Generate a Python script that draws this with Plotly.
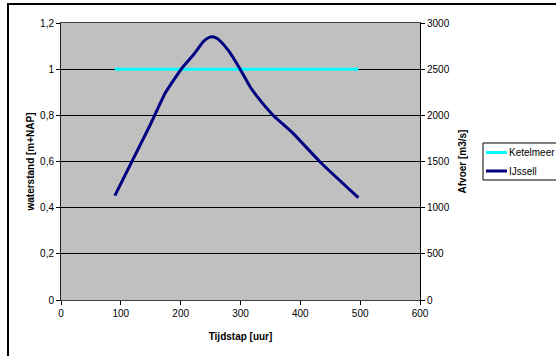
import plotly.graph_objects as go

# Data
ketel_t = [90, 150, 200, 250, 300, 350, 400, 450, 497]
ketel_h = [1, 1, 1, 1, 1, 1, 1, 1, 1]

ijssel_t = [90, 149, 174, 202, 221, 238, 245, 252, 259, 266, 280, 298, 316, 327, 354, 388, 433, 497]
ijssel_q = [1130, 1895, 2239, 2510, 2653, 2800, 2835, 2850, 2838, 2805, 2700, 2515, 2310, 2210, 2004, 1805, 1495, 1108]

series_names = ["Ketelmeer", "IJssell"]
series_colors = ["#00FFFF", "#000080"]

FONT = "Liberation Sans, Arial, sans-serif"

fig = go.Figure()
fig.add_trace(go.Scatter(x=ketel_t, y=ketel_h, mode="lines", name=series_names[0],
                         line=dict(color=series_colors[0], width=3), yaxis="y"))
fig.add_trace(go.Scatter(x=ijssel_t, y=ijssel_q, mode="lines", name=series_names[1],
                         line=dict(color=series_colors[1], width=3, shape="spline", smoothing=0.4),
                         yaxis="y2"))

W, H = 556, 356
L, R, T, B = 61, 136, 23, 56
pw = W - L - R
ph = H - T - B

def px_x(x):
    return (x - L) / pw

def px_y(y):
    return (H - B - y) / ph

shapes = [
    # outer chart border
    dict(type="rect", xref="paper", yref="paper",
         x0=px_x(8), x1=px_x(562), y0=px_y(362), y1=px_y(4),
         line=dict(color="black", width=2), fillcolor="rgba(0,0,0,0)", layer="below"),
    # legend box
    dict(type="rect", xref="paper", yref="paper",
         x0=px_x(483), x1=px_x(562), y0=px_y(180), y1=px_y(143),
         line=dict(color="black", width=1), fillcolor="white", layer="above"),
]
annotations = []
item_y = [152.5, 171]
for name, col, yy in zip(series_names, series_colors, item_y):
    shapes.append(dict(type="line", xref="paper", yref="paper",
                       x0=px_x(486), x1=px_x(507), y0=px_y(yy), y1=px_y(yy),
                       line=dict(color=col, width=3), layer="above"))
    annotations.append(dict(xref="paper", yref="paper", x=px_x(507), y=px_y(yy),
                            xanchor="left", yanchor="middle", text=name, showarrow=False,
                            font=dict(family=FONT, size=10, color="black")))

fig.update_layout(
    width=W, height=H,
    margin=dict(l=L, r=R, t=T, b=B, pad=0, autoexpand=False),
    paper_bgcolor="white",
    plot_bgcolor="#C0C0C0",
    separators=",.",
    font=dict(family=FONT, size=10, color="black"),
    showlegend=False,
    xaxis=dict(range=[0, 600], dtick=100, tick0=0,
               showgrid=False, zeroline=False,
               showline=True, linecolor="#404040", linewidth=1, mirror=True,
               ticks="outside", ticklen=4, tickcolor="black", automargin=False,
               title=dict(text="<b>Tijdstap [uur]</b>", font=dict(size=10), standoff=14)),
    yaxis=dict(range=[0, 1.2], dtick=0.2, tick0=0,
               showgrid=True, gridcolor="black", gridwidth=1, zeroline=False,
               showline=True, linecolor="#202020", linewidth=1,
               ticks="outside", ticklen=4, tickcolor="black", automargin=False,
               title=dict(text="<b>waterstand [m+NAP]</b>", font=dict(size=10), standoff=3)),
    yaxis2=dict(range=[0, 3000], dtick=500, tick0=0, overlaying="y", side="right",
                showgrid=False, zeroline=False,
                showline=True, linecolor="black", linewidth=1,
                ticks="outside", ticklen=4, tickcolor="black", automargin=False,
                title=dict(text="<b>Afvoer [m3/s]</b>", font=dict(size=10), standoff=10)),
    shapes=shapes,
    annotations=annotations,
)

fig.write_html("out.html")
